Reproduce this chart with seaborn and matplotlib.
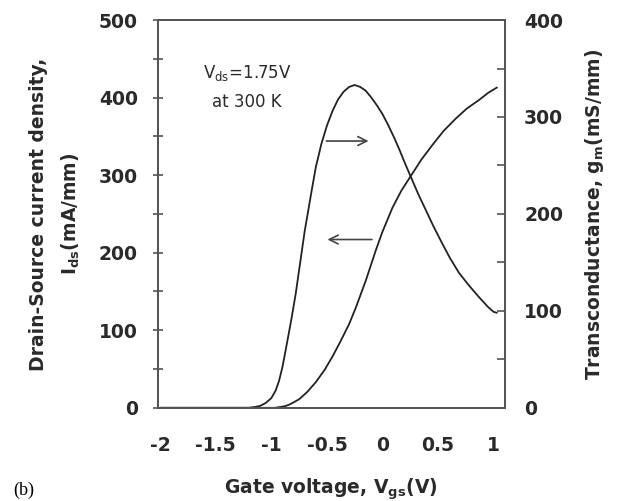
import numpy as np
import pandas as pd
import seaborn as sns
import matplotlib.pyplot as plt
from matplotlib.ticker import MultipleLocator

# Transconductance g_m (right axis)
vg_gm = [-2.0, -1.2, -1.14, -1.10, -1.05, -1.0, -0.96, -0.93, -0.90, -0.87, -0.82,
         -0.78, -0.75, -0.70, -0.64, -0.60, -0.55, -0.50, -0.45, -0.40, -0.35, -0.30,
         -0.25, -0.20, -0.15, -0.10, -0.05, 0.0, 0.05, 0.10, 0.15, 0.20, 0.26, 0.32,
         0.39, 0.46, 0.54, 0.61, 0.69, 0.78, 0.87, 0.95, 1.0, 1.03]
gm = [0, 0, 1, 2, 5, 10, 18, 28, 42, 60, 91,
      118, 142, 182, 222, 248, 272, 291, 306, 318, 326, 331,
      333, 331, 327, 320, 312, 303, 292, 280, 267, 253, 237, 221,
      204, 187, 169, 154, 139, 126, 114, 104, 99, 98]

# Drain-source current density I_ds (left axis)
vg_ids = [-2.0, -0.97, -0.92, -0.88, -0.84, -0.80, -0.75, -0.68, -0.60, -0.52, -0.45,
          -0.38, -0.30, -0.24, -0.15, -0.06, 0.0, 0.09, 0.17, 0.26, 0.35, 0.45, 0.55,
          0.66, 0.76, 0.87, 0.95, 1.03]
ids = [0, 0, 1, 2, 4, 7, 11, 20, 33, 49, 66,
       85, 108, 129, 164, 203, 227, 258, 280, 300, 320, 339, 357,
       373, 386, 397, 406, 413]

sns.set_theme(style="white")
plt.rcParams['font.family'] = ['DejaVu Sans']
txt = '#2a2a2a'
edge = '#555555'

df_ids = pd.DataFrame({'vg': vg_ids, 'ids': ids})
df_gm = pd.DataFrame({'vg': vg_gm, 'gm': gm})

fig = plt.figure(figsize=(6.17, 5.01), dpi=100)
ax = fig.add_axes([0.256, 0.186, 0.562, 0.774])
ax2 = ax.twinx()

sns.lineplot(data=df_ids, x='vg', y='ids', ax=ax, color='#222222', lw=1.3)
sns.lineplot(data=df_gm, x='vg', y='gm', ax=ax2, color='#222222', lw=1.3)

ax.set_xlim(-2.02, 1.1)
ax.set_ylim(0, 500)
ax2.set_ylim(0, 400)
ax.set_xticks([-2, -1.5, -1, -0.5, 0, 0.5, 1])
ax.set_xticklabels(['-2', '-1.5', '-1', '-0.5', '0', '0.5', '1'])
ax.yaxis.set_major_locator(MultipleLocator(100))
ax.yaxis.set_minor_locator(MultipleLocator(50))
ax2.yaxis.set_major_locator(MultipleLocator(100))
ax2.yaxis.set_minor_locator(MultipleLocator(50))

for a in (ax, ax2):
    for s in a.spines.values():
        s.set_color(edge)
        s.set_linewidth(1.4)
ax.tick_params(axis='x', which='both', direction='inout', length=7, width=1.2,
               color=edge, labelsize=13.5, labelcolor=txt, pad=17)
ax.tick_params(axis='y', which='both', direction='inout', length=7, width=1.2,
               color=edge, labelsize=13.5, labelcolor=txt, pad=11)
ax2.tick_params(axis='y', which='both', direction='in', length=6, width=1.2,
                color=edge, labelsize=13.5, labelcolor=txt, pad=14)
ax.tick_params(axis='y', which='minor', left=True)
ax2.tick_params(axis='y', which='minor', right=True)
for lab in ax.get_xticklabels() + ax.get_yticklabels() + ax2.get_yticklabels():
    lab.set_fontweight('bold')

ax.set_xlabel('Gate voltage, V$_{\\mathbf{gs}}$(V)', fontsize=13.5, color=txt,
              fontweight='bold', labelpad=15)
ax.set_ylabel('Drain-Source current density,\nI$_{\\mathbf{ds}}$(mA/mm)', fontsize=13.5,
              color=txt, fontweight='bold', labelpad=12, linespacing=1.7)
ax2.set_ylabel('Transconductance, g$_{\\mathbf{m}}$(mS/mm)', fontsize=13.5,
               color=txt, fontweight='bold', labelpad=14)

ax.text(-1.22, 432, 'V$_{\\mathregular{ds}}$=1.75V', ha='center', va='center',
        fontsize=12, color=txt)
ax.text(-1.22, 394, 'at 300 K', ha='center', va='center',
        fontsize=12, color=txt)

ax.annotate('', xy=(-0.10, 344), xytext=(-0.53, 344),
            arrowprops=dict(arrowstyle='->', color='#444444', lw=1.2,
                            mutation_scale=16))
ax.annotate('', xy=(-0.52, 217), xytext=(-0.07, 217),
            arrowprops=dict(arrowstyle='->', color='#444444', lw=1.2,
                            mutation_scale=16))

fig.text(0.021, 0.004, '(b)', fontsize=13, color='black',
         family='Liberation Serif', va='bottom')

fig.savefig('out.png', dpi=100)
